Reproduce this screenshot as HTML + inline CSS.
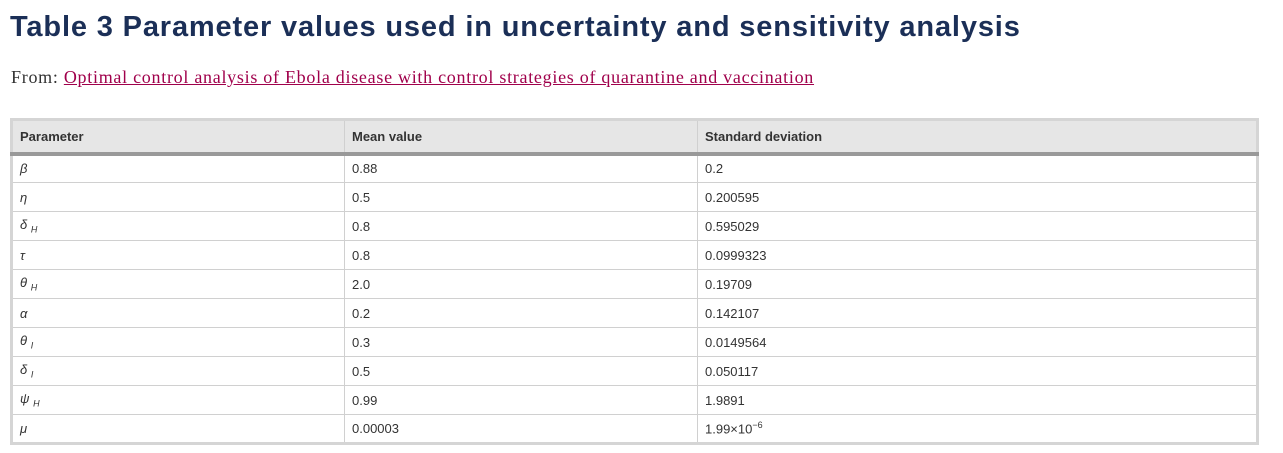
<!DOCTYPE html>
<html><head><meta charset="utf-8"><style>
body{margin:0;width:1283px;height:453px;background:#fff;position:relative;overflow:hidden;font-family:"Liberation Sans",sans-serif}
h1{position:absolute;left:10px;top:11px;margin:0;font-size:29px;font-weight:bold;color:#1b2f57;letter-spacing:0.85px}
.from{position:absolute;left:11px;top:67px;font-family:"Liberation Serif",serif;font-size:18px;color:#333;letter-spacing:0.72px;white-space:nowrap}
.from a{color:#a0004b;text-decoration:underline}
table{position:absolute;left:10px;top:118px;width:1249px;border-collapse:collapse;border:3px solid #d5d5d5;font-size:13px;color:#333}
th{background:#e6e6e6;text-align:left;font-weight:bold;height:34px;padding:0 0 0 7px;border-bottom:4px solid #999;border-left:1px solid #d0d0d0;box-sizing:border-box}
td{height:29px;padding:0 0 0 7px;border-top:1px solid #d0d0d0;border-left:1px solid #d0d0d0;box-sizing:border-box}
td i{font-family:"Liberation Sans",sans-serif;font-size:13px}
sub{font-size:9px;font-style:italic}
</style></head><body>
<h1>Table 3 Parameter values used in uncertainty and sensitivity analysis</h1>
<div class="from">From: <a>Optimal control analysis of Ebola disease with control strategies of quarantine and vaccination</a></div>
<table>
<colgroup><col style="width:333px"><col style="width:353px"><col></colgroup>
<tr><th>Parameter</th><th>Mean value</th><th>Standard deviation</th></tr>
<tr><td><i>β</i></td><td>0.88</td><td>0.2</td></tr>
<tr><td><i>η</i></td><td>0.5</td><td>0.200595</td></tr>
<tr><td><i>δ</i> <sub>H</sub></td><td>0.8</td><td>0.595029</td></tr>
<tr><td><i>τ</i></td><td>0.8</td><td>0.0999323</td></tr>
<tr><td><i>θ</i> <sub>H</sub></td><td>2.0</td><td>0.19709</td></tr>
<tr><td><i>α</i></td><td>0.2</td><td>0.142107</td></tr>
<tr><td><i>θ</i> <sub>I</sub></td><td>0.3</td><td>0.0149564</td></tr>
<tr><td><i>δ</i> <sub>I</sub></td><td>0.5</td><td>0.050117</td></tr>
<tr><td><i>ψ</i> <sub>H</sub></td><td>0.99</td><td>1.9891</td></tr>
<tr><td><i>μ</i></td><td>0.00003</td><td>1.99×10<sup style="font-size:9px">−6</sup></td></tr>
</table>
</body></html>
